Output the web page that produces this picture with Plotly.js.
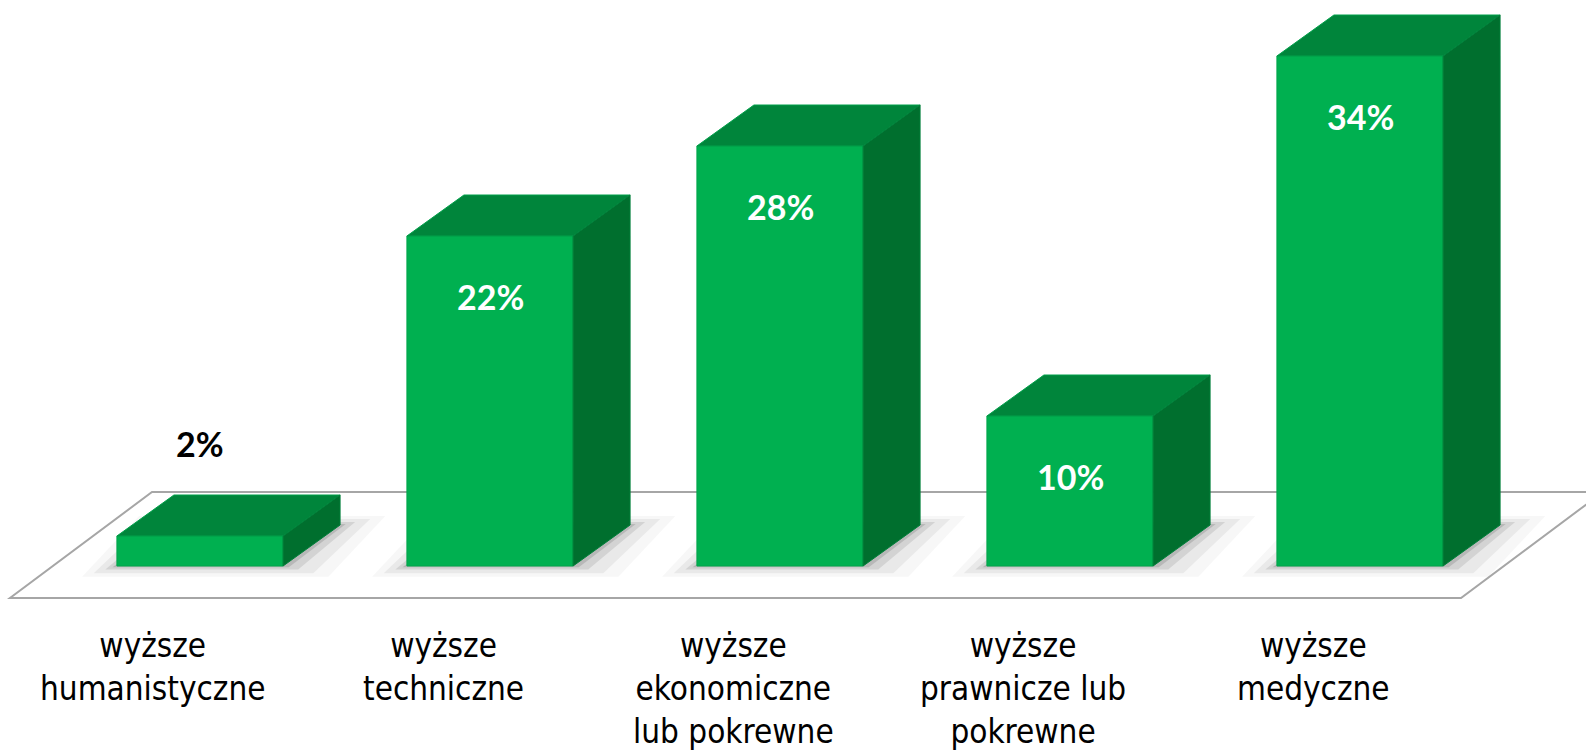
<!DOCTYPE html>
<html>
<head>
<meta charset="utf-8">
<script src="https://cdn.plot.ly/plotly-3.0.1.min.js"></script>
<style>html,body{margin:0;padding:0;background:#fff;}#chart{width:1586px;height:753px;}</style>
</head>
<body>
<div id="chart"></div>
<script>
const categories = ['wyższe<br>humanistyczne', 'wyższe<br>techniczne', 'wyższe<br>ekonomiczne<br>lub pokrewne', 'wyższe<br>prawnicze lub<br>pokrewne', 'wyższe<br>medyczne'];
const values = [2, 22, 28, 10, 34];
const valueLabels = values.map(v => v + '%');

// geometry (in axis units)
const W = 1586, H = 753;
const pxPerCat = 290, x0px = 200;      // category spacing
const pxPerPct = 15, y0px = 566;        // value scale
const barW = 0.573;
const dX = 57 / pxPerCat, dY = 41 / pxPerPct; // bar depth
const xs = values.map((v, i) => i);

const front = '#00B050', topC = '#00853B', sideC = '#006F2E';

const traces = [];
traces.push({
  type: 'bar', x: xs, y: values, width: barW,
  marker: {color: front, line: {color: '#00A54A', width: 1}},
  hoverinfo: 'skip', showlegend: false
});
xs.forEach((x, i) => {
  const v = values[i], l = x - barW / 2, r = x + barW / 2;
  traces.push({
    type: 'scatter', mode: 'lines', fill: 'toself', fillcolor: topC,
    line: {color: '#00A04A', width: 1},
    x: [l, r, r + dX, l + dX, l], y: [v, v, v + dY, v + dY, v],
    hoverinfo: 'skip', showlegend: false
  });
  traces.push({
    type: 'scatter', mode: 'lines', fill: 'toself', fillcolor: sideC,
    line: {color: '#00803A', width: 1},
    x: [r, r + dX, r + dX, r, r], y: [0, dY, v + dY, v, 0],
    hoverinfo: 'skip', showlegend: false
  });
});

// floor
const fl = (10 - x0px) / pxPerCat, fr = (1461 - x0px) / pxPerCat;
const fyF = -(598 - y0px) / pxPerPct, fyB = (y0px - 492) / pxPerPct;
const fdx = 142 / pxPerCat;
const shapes = [{
  type: 'path', layer: 'below', xref: 'x', yref: 'y',
  path: `M${fl},${fyF} L${fr},${fyF} L${fr + fdx},${fyB} L${fl + fdx},${fyB} Z`,
  fillcolor: '#FFFFFF', line: {color: '#A6A6A6', width: 2}
}];
// soft shadows
xs.forEach((x) => {
  [[0.12, 0.04], [0.08, 0.07], [0.04, 0.12], [0.015, 0.18]].forEach(([e, op]) => {
    const l = x - barW / 2 - e, r = x + barW / 2 + dX + e * 1.3;
    const yb = -e * 6, yt = dY + e * 5;
    shapes.push({
      type: 'path', layer: 'below', xref: 'x', yref: 'y',
      path: `M${l},${yb} L${r - dX},${yb} L${r},${yt} L${l + dX},${yt} Z`,
      fillcolor: `rgba(60,60,60,${op})`, line: {width: 0}
    });
  });
});

const annotations = [];
xs.forEach((x, i) => {
  const v = values[i];
  if (v < 5) {
    annotations.push({x: x, y: v + dY, xref: 'x', yref: 'y', text: '<b>' + valueLabels[i] + '</b>',
      showarrow: false, yshift: 52, font: {family: 'Lato, sans-serif', size: 34, color: '#000'}});
  } else {
    annotations.push({x: x, y: v, xref: 'x', yref: 'y', text: '<b>' + valueLabels[i] + '</b>',
      showarrow: false, yshift: -60, font: {family: 'Lato, sans-serif', size: 34, color: '#FFF'}});
  }
  annotations.push({x: x, y: 1 - 624 / H, xref: 'x', yref: 'paper', yanchor: 'top', xshift: -47,
    text: categories[i], showarrow: false,
    font: {family: '"Liberation Sans Narrow", "DejaVu Sans Condensed", sans-serif', size: 33, color: '#000'}});
});

const layout = {
  width: W, height: H, margin: {l: 0, r: 0, t: 0, b: 0},
  paper_bgcolor: '#fff', plot_bgcolor: 'rgba(0,0,0,0)',
  xaxis: {range: [-x0px / pxPerCat, (W - x0px) / pxPerCat], visible: false, fixedrange: true},
  yaxis: {range: [-(H - y0px) / pxPerPct, y0px / pxPerPct], visible: false, fixedrange: true},
  shapes: shapes, annotations: annotations, showlegend: false, bargap: 0
};
Plotly.newPlot('chart', traces, layout, {staticPlot: true, displayModeBar: false});
</script>
</body>
</html>
